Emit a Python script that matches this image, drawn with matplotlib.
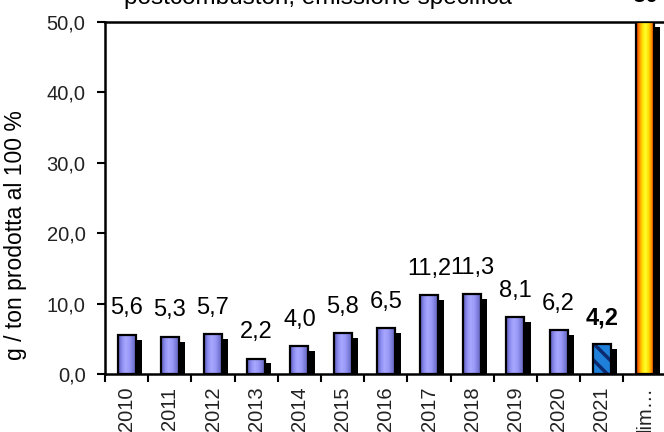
import matplotlib
matplotlib.use("Agg")
import matplotlib.pyplot as plt
import numpy as np
from matplotlib.colors import LinearSegmentedColormap

plt.rcParams['font.family'] = ['Liberation Sans', 'DejaVu Sans']
plt.rcParams['hatch.linewidth'] = 2.5

# data
categories = ['2010', '2011', '2012', '2013', '2014', '2015', '2016',
              '2017', '2018', '2019', '2020', '2021', 'lim…']
values = [5.6, 5.3, 5.7, 2.2, 4.0, 5.8, 6.5, 11.2, 11.3, 8.1, 6.2, 4.2, 50.0]
value_labels = ['5,6', '5,3', '5,7', '2,2', '4,0', '5,8', '6,5',
                '11,2', '11,3', '8,1', '6,2', '4,2', '50']
yticks = [0, 10, 20, 30, 40, 50]
ytick_labels = ['0,0', '10,0', '20,0', '30,0', '40,0', '50,0']
title = 'postcombustori, emissione specifica'
ylabel = 'g / ton prodotta al 100 %'

# style
W = 0.42
SH_DX = 0.14
SH_DY = 0.7
purple = LinearSegmentedColormap.from_list(
    'p', ['#5858b4', '#8c8cf0', '#a8a8ff', '#9a9af8', '#7a7ad8', '#5a5ab0'])
fire = LinearSegmentedColormap.from_list(
    'f', ['#d82000', '#ff8c00', '#ffe000', '#ffff30', '#ffe000', '#ff8c00', '#d82000'])

fig = plt.figure(figsize=(6.64, 4.32), dpi=100)
ax = fig.add_axes([105/664, 58/432, 561.6/664, 352/432])

x = np.arange(len(categories))
grad = np.linspace(0, 1, 64).reshape(1, -1)

# shadows
ax.bar(x + SH_DX, np.array(values) - SH_DY, width=W, color='black', zorder=2)

for i, (xi, v) in enumerate(zip(x, values)):
    if categories[i] == '2021':
        ax.bar(xi, v, width=W, color='#1e80d8', edgecolor='#0c2a70',
               hatch='\\\\', linewidth=0, zorder=3)
        ax.bar(xi, v, width=W, fill=False, edgecolor='black',
               linewidth=1.6, zorder=4)
        continue
    cmap = fire if i == len(values) - 1 else purple
    b = ax.bar(xi, v, width=W, color='none', edgecolor='black',
               linewidth=1.6, zorder=4)[0]
    im = ax.imshow(grad, cmap=cmap, aspect='auto',
                   extent=(b.get_x(), b.get_x() + b.get_width(), 0, v),
                   zorder=3)
    im.set_clip_path(b)

ax.set_xlim(-0.5, len(categories) - 0.5)
ax.set_ylim(0, 50)

for i, (xi, v) in enumerate(zip(x, values)):
    bold = categories[i] in ('2021', 'lim…')
    ax.annotate(value_labels[i], (xi, v), xytext=(0, 11),
                textcoords='offset points', ha='center', va='bottom',
                fontsize=17, fontweight='bold' if bold else 'normal',
                annotation_clip=False)

ax.set_yticks(yticks)
ax.set_yticklabels(ytick_labels, fontsize=14.5, color='#222222')
ax.tick_params(axis='y', direction='out', length=6, width=1.5, pad=8)

ax.set_xticks(x)
ax.set_xticklabels(categories, rotation=90, fontsize=14.5, color='#222222')
ax.set_xticks(np.arange(-0.5, len(categories) - 0.4, 1), minor=True)
ax.tick_params(axis='x', which='major', length=0, pad=9)
ax.tick_params(axis='x', which='minor', direction='out', length=6, width=1.5)

for s in ('left', 'bottom', 'top'):
    ax.spines[s].set_linewidth(1.8)
ax.spines['right'].set_visible(False)

ax.set_ylabel(ylabel, fontsize=16.5)
ax.yaxis.set_label_coords(-0.139, 0.395)

fig.text(318/664, 1 - 4/432, title, ha='center', va='baseline', fontsize=17.5)

fig.savefig('out.png', dpi=100)
